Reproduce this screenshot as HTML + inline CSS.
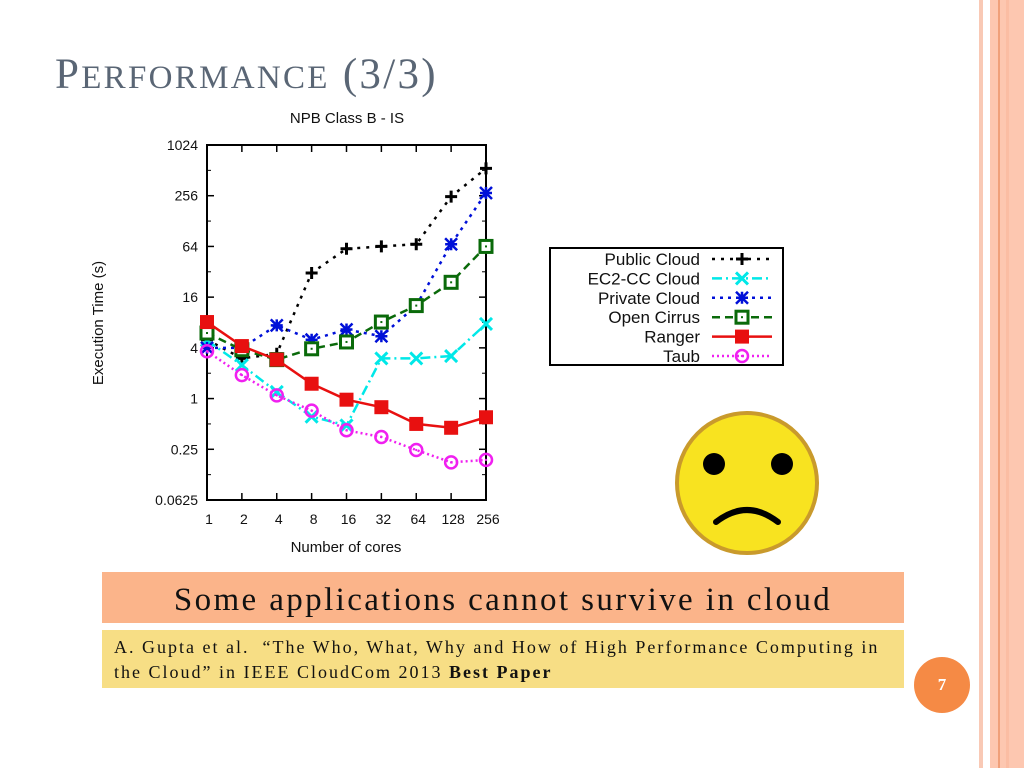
<!DOCTYPE html>
<html><head><meta charset="utf-8"><style>
body{margin:0;width:1024px;height:768px;background:#fff;position:relative;overflow:hidden;font-family:"Liberation Sans",sans-serif}
.abs{position:absolute}
</style></head><body>
<div class="abs" style="left:979px;top:0;width:4px;height:768px;background:#f9c9b5"></div>
<div class="abs" style="left:990px;top:0;width:34px;height:768px;background:#fdc7b0"></div>
<div class="abs" style="left:998px;top:0;width:2px;height:768px;background:#f0a07a"></div>
<div class="abs" style="left:1006px;top:0;width:3px;height:768px;background:#fbbda3"></div>
<div class="abs" style="left:55px;top:50px;font-family:'Liberation Serif',serif;font-size:43px;color:#5a6675;letter-spacing:2.3px">P<span style="font-size:33px">ERFORMANCE</span> (3/3)</div>

<svg class="abs" style="left:0;top:0" width="1024" height="768">
<g id="chart" font-family="Liberation Sans, sans-serif"></g>
</svg>

<svg class="abs" style="left:674px;top:410px" width="146" height="146">
<circle cx="73" cy="73" r="70" fill="#f8e320" stroke="#c99a2c" stroke-width="4"/>
<circle cx="40" cy="54" r="11" fill="#000"/><circle cx="108" cy="54" r="11" fill="#000"/>
<path d="M42 112 Q73 88 104 112" stroke="#000" stroke-width="6" fill="none" stroke-linecap="round"/>
</svg>

<div class="abs" style="left:102px;top:572px;width:802px;height:51px;background:#fbb48a;font-family:'Liberation Serif',serif;font-size:33px;letter-spacing:2.4px;text-align:center;line-height:56px;color:#111;white-space:nowrap">Some applications cannot survive in cloud</div>
<div class="abs" style="left:102px;top:630px;width:802px;height:58px;background:#f7de85;font-family:'Liberation Serif',serif;font-size:18px;letter-spacing:2px;line-height:25px;color:#111;padding:5px 0 0 12px;box-sizing:border-box;white-space:nowrap">A. Gupta et al.&nbsp; “The Who, What, Why and How of High Performance Computing in<br>the Cloud” in IEEE CloudCom 2013 <b>Best Paper</b></div>
<div class="abs" style="left:914px;top:657px;width:56px;height:56px;border-radius:50%;background:#f58a45;color:#fff;font-family:'Liberation Serif',serif;font-weight:bold;font-size:17px;text-align:center;line-height:56px">7</div>

<script>
const cores=["1","2","4","8","16","32","64","128","256"];
const yTicks=[1024,256,64,16,4,1,0.25,0.0625];
const yTickLabels=["1024","256","64","16","4","1","0.25","0.0625"];
const publicCloud=[5,3,3.4,31,60,64,68,250,540];
const ec2Cloud=[4.9,2.5,1.2,0.61,0.48,3,3,3.2,7.7];
const privateCloud=[4,4,7.4,5,6.6,5.5,12.7,68,276];
const openCirrus=[6,3.8,2.9,3.9,4.7,8.1,12.7,24,64];
const ranger=[8.1,4.2,2.9,1.5,0.97,0.79,0.5,0.45,0.6];
const taub=[3.65,1.9,1.09,0.72,0.42,0.35,0.245,0.175,0.187];
const seriesNames=["Public Cloud","EC2-CC Cloud","Private Cloud","Open Cirrus","Ranger","Taub"];

const L=207,R=486,T=145,B=500;
const x=i=>L+i*(R-L)/(cores.length-1);
const y=v=>B-(Math.log2(v)-Math.log2(0.0625))*(B-T)/(Math.log2(1024)-Math.log2(0.0625));
const g=document.getElementById('chart');
const NS='http://www.w3.org/2000/svg';
function mk(tag,at,parent){const e=document.createElementNS(NS,tag);for(const k in at)e.setAttribute(k,at[k]);(parent||g).appendChild(e);return e;}

let t=mk('text',{x:347,y:123,'text-anchor':'middle','font-size':15,fill:'#111'});t.textContent='NPB Class B - IS';


let fr=mk('rect',{x:L,y:T,width:R-L,height:B-T,fill:'none',stroke:'#000','stroke-width':2});


yTicks.forEach((v,i)=>{
 const yy=y(v);
 mk('line',{x1:L,x2:L+7,y1:yy,y2:yy,stroke:'#000','stroke-width':1.5});
 mk('line',{x1:R,x2:R-7,y1:yy,y2:yy,stroke:'#000','stroke-width':1.5});
 if(i<yTicks.length-1){const ym=y(v/2);mk('line',{x1:L,x2:L+4,y1:ym,y2:ym,stroke:'#000'});mk('line',{x1:R,x2:R-4,y1:ym,y2:ym,stroke:'#000'});}
 const tl=mk('text',{x:L-9,y:yy+5,'text-anchor':'end','font-size':14,fill:'#111'});tl.textContent=yTickLabels[i];
 
 
});
cores.forEach((c,i)=>{
 const xx=x(i);
 mk('line',{x1:xx,x2:xx,y1:B,y2:B-7,stroke:'#000','stroke-width':1.5});
 mk('line',{x1:xx,x2:xx,y1:T,y2:T+7,stroke:'#000','stroke-width':1.5});
 const tl=mk('text',{x:xx+2,y:B+24,'text-anchor':'middle','font-size':14,fill:'#111'});tl.textContent=c;
 
 
});
t=mk('text',{x:346,y:552,'text-anchor':'middle','font-size':15,fill:'#111'});t.textContent='Number of cores';


t=mk('text',{x:0,y:0,'text-anchor':'middle','font-size':15,fill:'#111',transform:'translate(103,323) rotate(-90)'});t.textContent='Execution Time (s)';



const styles=[
 {c:'#000',d:'3,6',m:'plus',data:publicCloud},
 {c:'#00e8e8',d:'10,4,2,4',m:'x',data:ec2Cloud},
 {c:'#0010d8',d:'3,5',m:'star',data:privateCloud},
 {c:'#0a6a0a',d:'8,5',m:'sq',data:openCirrus},
 {c:'#e81010',d:'',m:'fsq',data:ranger},
 {c:'#f020f0',d:'2,3',m:'circ',data:taub}
];
function marker(m,cx,cy,c,par){
 const s=6;
 if(m==='plus'){mk('path',{d:`M${cx-s} ${cy}H${cx+s}M${cx} ${cy-s}V${cy+s}`,stroke:c,'stroke-width':3},par);}
 else if(m==='x'){mk('path',{d:`M${cx-s} ${cy-s}L${cx+s} ${cy+s}M${cx-s} ${cy+s}L${cx+s} ${cy-s}`,stroke:c,'stroke-width':3},par);}
 else if(m==='star'){mk('path',{d:`M${cx-s} ${cy-s}L${cx+s} ${cy+s}M${cx-s} ${cy+s}L${cx+s} ${cy-s}M${cx} ${cy-s}V${cy+s}M${cx-s} ${cy}H${cx+s}`,stroke:c,'stroke-width':2.5},par);}
 else if(m==='sq'){mk('rect',{x:cx-6,y:cy-6,width:12,height:12,fill:'#fff',stroke:c,'stroke-width':3},par);mk('rect',{x:cx-1,y:cy-1,width:2,height:2,fill:c},par);}
 else if(m==='fsq'){mk('rect',{x:cx-7,y:cy-7,width:14,height:14,fill:c},par);}
 else {mk('circle',{cx,cy,r:6,fill:'none',stroke:c,'stroke-width':2.5},par);mk('circle',{cx,cy,r:1.2,fill:c},par);}
}
styles.forEach((s,k)=>{
 const sg=mk('g',{});
 
 
 const pts=s.data.map((v,i)=>x(i)+','+y(v)).join(' ');
 mk('polyline',{points:pts,fill:'none',stroke:s.c,'stroke-width':2.5,'stroke-dasharray':s.d},sg);
 s.data.forEach((v,i)=>marker(s.m,x(i),y(v),s.c,sg));
});
const lg=mk('g',{});


mk('rect',{x:550,y:248,width:233,height:117,fill:'#fff',stroke:'#000','stroke-width':2},lg);
styles.forEach((s,k)=>{
 const yy=259+k*19.4;
 const lt=mk('text',{x:700,y:yy+6,'text-anchor':'end','font-size':17,fill:'#111'},lg);lt.textContent=seriesNames[k];
 
 
 mk('line',{x1:712,x2:772,y1:yy,y2:yy,stroke:s.c,'stroke-width':2.5,'stroke-dasharray':s.d},lg);
 marker(s.m,742,yy,s.c,lg);
});
</script>
</body></html>
